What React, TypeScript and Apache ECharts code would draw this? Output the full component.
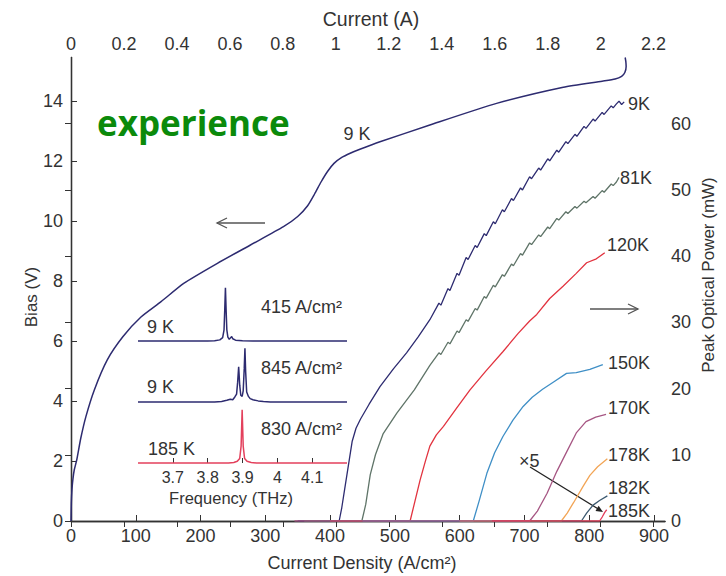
import React, { useEffect, useRef } from "react";
import * as echarts from "echarts";

// ---- Data ----
// Bias (V) vs current density (A/cm^2), 9 K
const biasCurve: [number, number][] = [
  [0, 0], [0.5, 0.6], [1.5, 1.05], [3, 1.4], [5, 1.7], [9, 2.05], [15, 2.75], [23, 3.48],
  [36, 4.37], [56, 5.37], [80, 6.14], [108, 6.8], [139, 7.31], [174, 7.92], [226, 8.59],
  [277, 9.2], [328, 9.81], [350, 10.15], [365, 10.5], [376, 10.9], [386, 11.3], [396, 11.65],
  [406, 11.92], [418, 12.12], [431, 12.26], [447, 12.4], [477, 12.64], [554, 13.2], [657, 13.92],
  [760, 14.46], [820, 14.66], [840, 14.73], [850, 14.82], [855, 14.95], [857, 15.15], [856.5, 15.32], [855.5, 15.45],
];

// Peak optical power (mW) vs current density (A/cm^2)
const power9K: [number, number][] = [
  [350, 0], [405, 0], [414, 0], [418, 2], [422, 4.5], [426, 7], [430, 9.5], [434, 12], [440, 14],
  [447, 15.4], [460, 17.6], [477, 20.3], [498, 23], [518, 25.4], [536, 27.8], [554, 30.4],
  [568, 32.9], [571, 32.6], [582, 35.1], [585, 34.8], [596, 37.4], [599, 37.1], [610, 39.8], [613, 39.5],
  [624, 41.6], [627, 41.3], [638, 43.4], [641, 43.1], [652, 45.2], [655, 44.9], [666, 47.0], [669, 46.7],
  [680, 48.7], [683, 48.4], [694, 50.3], [697, 50.0], [708, 52.0], [711, 51.7], [722, 53.3], [725, 53.0],
  [736, 54.7], [739, 54.4], [750, 56.0], [753, 55.7], [764, 57.3], [767, 57.0], [778, 58.4], [781, 58.1],
  [792, 59.6], [795, 59.3], [806, 60.7], [809, 60.4], [820, 61.7], [823, 61.4], [834, 62.7], [837, 62.4],
  [842, 63.0], [846, 63.4], [850, 62.9], [854, 63.3],
];
const power81K: [number, number][] = [
  [360, 0], [446, 0], [449, 0], [455, 2.5], [462, 7.0], [470, 10], [482, 13.2], [503, 16.3], [530, 19.8],
  [554, 23.5], [568, 25.4], [571, 25.15], [582, 27.0], [585, 26.75], [596, 28.7], [599, 28.45], [610, 30.4],
  [613, 30.15], [624, 32.1], [627, 31.85], [638, 33.9], [641, 33.65], [652, 35.6], [655, 35.35], [666, 37.2],
  [669, 36.95], [680, 38.8], [683, 38.55], [694, 40.4], [697, 40.15], [708, 42.0], [711, 41.75], [722, 43.2],
  [725, 42.95], [736, 44.4], [739, 44.15], [750, 45.7], [753, 45.45], [764, 46.7], [767, 46.45], [778, 47.5],
  [781, 47.25], [792, 48.3], [795, 48.05], [806, 49.0], [809, 48.75], [820, 49.9], [823, 49.65], [834, 50.9],
  [837, 50.65], [842, 51.2], [846, 51.9],
];
const power120K: [number, number][] = [
  [400, 0], [520, 0], [523.5, 0], [531, 3], [539, 6.2], [547, 9], [554, 11.3], [564, 13], [575, 14.3],
  [595, 17], [616, 19.8], [640, 22.6], [667, 25.6], [690, 28.3], [708, 30.2], [719, 31.2], [739, 33.6],
  [760, 35.5], [780, 37.4], [796, 39.0], [811, 39.6], [824, 40.5],
];
const power150K: [number, number][] = [
  [450, 0], [618, 0], [621, 0], [630, 3], [642, 7.2], [654, 10.3], [667, 12.8], [682, 15.2], [698, 17.3],
  [712, 18.7], [728, 19.9], [745, 21.0], [765, 22.3], [780, 22.4], [801, 22.9], [821, 23.6],
];
const power170K: [number, number][] = [
  [345, 0], [705, 0], [708, 0], [720, 1.5], [735, 4.2], [750, 7.5], [765, 10.4], [780, 13.3],
  [795, 15.0], [810, 15.7], [826, 16.1],
];
const power178K: [number, number][] = [
  [600, 0], [754, 0], [757, 0], [766, 1.2], [776, 2.8], [791, 5.3], [801, 6.9], [813, 8.2], [828, 9.4],
];
const power182K: [number, number][] = [
  [650, 0], [786, 0], [788, 0], [796, 1.2], [806, 2.4], [816, 3.1], [828, 3.8],
];
const power185K: [number, number][] = [
  [650, 0], [816, 0], [820, 0.6], [824, 1.3], [827, 1.7],
];

// Inset spectra: frequency (THz) vs normalized intensity
const spectrum415: [number, number][] = [
  [3.6, 0], [3.8, 0], [3.82, 0.005], [3.835, 0.02], [3.843, 0.06], [3.847, 0.2], [3.849, 0.55],
  [3.851, 0.95], [3.853, 0.55], [3.855, 0.2], [3.858, 0.07], [3.862, 0.03], [3.866, 0.06],
  [3.869, 0.08], [3.872, 0.04], [3.88, 0.015], [3.9, 0.005], [3.93, 0], [4.2, 0],
];
const spectrum845: [number, number][] = [
  [3.6, 0], [3.82, 0], [3.84, 0.01], [3.855, 0.03], [3.865, 0.05], [3.872, 0.04], [3.878, 0.09],
  [3.883, 0.14], [3.886, 0.35], [3.889, 0.63], [3.892, 0.3], [3.895, 0.12], [3.899, 0.1], [3.902, 0.2],
  [3.905, 0.6], [3.907, 0.96], [3.909, 0.55], [3.912, 0.18], [3.917, 0.1], [3.922, 0.06], [3.93, 0.04],
  [3.945, 0.02], [3.96, 0.01], [3.98, 0], [4.2, 0],
];
const spectrum830: [number, number][] = [
  [3.6, 0], [3.86, 0], [3.875, 0.01], [3.885, 0.03], [3.892, 0.08], [3.896, 0.3], [3.899, 0.95],
  [3.902, 0.3], [3.906, 0.08], [3.913, 0.03], [3.925, 0.01], [3.94, 0], [4.2, 0],
];
const freqTicks = [3.7, 3.8, 3.9, 4, 4.1];

const FONT = "'Liberation Sans', Arial, sans-serif";
const TXT = "#333";
const AX = "#333";

const NAVY = "#2d2b70";
const GRAYGREEN = "#5f7468";
const RED = "#e2333f";
const BLUE = "#3f8fc6";
const MAUVE = "#a65683";
const ORANGE = "#f2a556";
const SLATE = "#3d5a70";
const PINKRED = "#e3405c";

function txt(text: string, x: number, y: number, opts: any = {}) {
  return {
    type: "text",
    x,
    y,
    rotation: opts.rotation || 0,
    z: 100,
    style: {
      text,
      fill: opts.fill || TXT,
      fontSize: opts.fontSize || 18,
      fontFamily: opts.fontFamily || FONT,
      fontWeight: opts.fontWeight || "normal",
      textAlign: opts.align || "left",
      textVerticalAlign: "middle",
    },
  };
}

export default function App() {
  const ref = useRef<HTMLDivElement>(null);
  useEffect(() => {
    if (!ref.current) return;
    const chart = echarts.init(ref.current, null, { renderer: "svg" });
    const axisLine = { show: true, lineStyle: { color: AX, width: 1.3 } };
    const axisLabel = { color: TXT, fontSize: 18, fontFamily: FONT };
    const line = (data: any, color: string, yAxisIndex = 1, lw = 1.3, extra: any = {}) => ({
      type: "line",
      data,
      xAxisIndex: 0,
      yAxisIndex,
      showSymbol: false,
      symbol: "none",
      silent: true,
      lineStyle: { color, width: lw },
      ...extra,
    });
    const spec = (data: any, color: string, idx: number) => ({
      type: "line",
      data,
      xAxisIndex: idx,
      yAxisIndex: idx,
      showSymbol: false,
      symbol: "none",
      silent: true,
      clip: false,
      lineStyle: { color, width: 1.5 },
    });
    const option: any = {
      animation: false,
      backgroundColor: "#fff",
      grid: [
        { left: 71, right: 61, top: 57.5, bottom: 55 },
        { left: 138, top: 285, width: 209, height: 56 },
        { left: 138, top: 346, width: 209, height: 56 },
        { left: 138, top: 407, width: 209, height: 56 },
      ],
      xAxis: [
        {
          type: "value", gridIndex: 0, position: "bottom", min: 0, max: 917, interval: 100,
          axisLine, axisTick: { inside: true, length: 6, lineStyle: { color: AX } },
          axisLabel: { ...axisLabel, margin: 6, showMaxLabel: false }, splitLine: { show: false },
        },
        {
          type: "value", gridIndex: 0, position: "top", min: 0, max: 2.243, interval: 0.2,
          axisLine, axisTick: { inside: true, length: 6, lineStyle: { color: AX } },
          axisLabel: { ...axisLabel, margin: 5, showMaxLabel: false }, splitLine: { show: false },
        },
        { type: "value", gridIndex: 1, min: 3.6, max: 4.2, show: false },
        { type: "value", gridIndex: 2, min: 3.6, max: 4.2, show: false },
        {
          type: "value", gridIndex: 3, min: 3.6, max: 4.2,
          axisLine: { show: false },
          axisTick: { show: true, inside: true, length: 5, customValues: freqTicks, lineStyle: { color: AX } },
          axisLabel: { ...axisLabel, fontSize: 16, margin: 6, customValues: freqTicks },
          splitLine: { show: false },
        },
      ],
      yAxis: [
        {
          type: "value", gridIndex: 0, position: "left", min: 0, max: 15.45, interval: 2,
          axisLine, axisTick: { show: true, inside: true, length: 6, lineStyle: { color: AX } },
          axisLabel: { ...axisLabel, margin: 8, showMaxLabel: false }, splitLine: { show: false },
        },
        {
          type: "value", gridIndex: 0, position: "right", min: 0, max: 70, interval: 10,
          axisLine, axisTick: { show: true, inside: true, length: 6, lineStyle: { color: AX } },
          axisLabel: { ...axisLabel, margin: 6, showMaxLabel: false }, splitLine: { show: false },
        },
        { type: "value", gridIndex: 1, min: 0, max: 1, show: false },
        { type: "value", gridIndex: 2, min: 0, max: 1, show: false },
        { type: "value", gridIndex: 3, min: 0, max: 1, show: false },
      ],
      series: [
        line(biasCurve, NAVY, 0, 1.5, { smooth: 0.2 }),
        line(power9K, NAVY),
        line(power81K, GRAYGREEN),
        line(power120K, RED),
        line(power150K, BLUE),
        line(power178K, ORANGE),
        line(power182K, SLATE),
        line(power170K, MAUVE),
        line(power185K, PINKRED),
        spec(spectrum415, NAVY, 2),
        spec(spectrum845, NAVY, 3),
        spec(spectrum830, PINKRED, 4),
      ],
      graphic: [
        txt("Current (A)", 371, 19, { align: "center", fontSize: 19.5 }),
        txt("Current Density (A/cm²)", 362, 563, { align: "center" }),
        txt("Bias (V)", 31, 297, { align: "center", rotation: Math.PI / 2, fontSize: 17 }),
        txt("Peak Optical Power (mW)", 708, 275, { align: "center", rotation: Math.PI / 2, fontSize: 17 }),
        txt("experience", 97, 122, { fontSize: 35, fontWeight: "bold", fontFamily: "'Open Sans', sans-serif", fill: "#0b8a0b" }),
        txt("9 K", 357, 134, { align: "center" }),
        txt("9K", 628, 104),
        txt("81K", 620, 178),
        txt("120K", 607, 245),
        txt("150K", 608, 363),
        txt("170K", 608, 408),
        txt("178K", 608, 455),
        txt("182K", 608, 488),
        txt("185K", 608, 511),
        txt("415 A/cm²", 261, 307),
        txt("845 A/cm²", 261, 368),
        txt("830 A/cm²", 261, 429),
        txt("9 K", 147, 327),
        txt("9 K", 147, 387),
        txt("185 K", 148, 449),
        txt("Frequency (THz)", 231, 498, { align: "center", fontSize: 16.5 }),
        txt("×5", 519, 461),
        // left arrow (bias axis)
        { type: "line", shape: { x1: 265, y1: 223, x2: 217, y2: 223 }, style: { stroke: "#555", lineWidth: 1.3 } },
        { type: "polyline", shape: { points: [[227, 218], [217, 223], [227, 228]] }, style: { stroke: "#555", lineWidth: 1.3, fill: "none" } },
        // right arrow (power axis)
        { type: "line", shape: { x1: 590, y1: 309, x2: 638, y2: 309 }, style: { stroke: "#555", lineWidth: 1.3 } },
        { type: "polyline", shape: { points: [[628, 304], [638, 309], [628, 314]] }, style: { stroke: "#555", lineWidth: 1.3, fill: "none" } },
        // x5 arrow
        { type: "line", shape: { x1: 530, y1: 467, x2: 600, y2: 510 }, style: { stroke: "#222", lineWidth: 1.3 } },
        { type: "polygon", shape: { points: [[603, 512], [595.5, 510.9], [598.6, 505.8]] }, style: { fill: "#222" } },
      ],
    };
    chart.setOption(option);
    return () => chart.dispose();
  }, []);
  return (
    <div
      ref={ref}
      style={{ position: "fixed", left: 0, top: 0, width: 726, height: 576, background: "#fff" }}
    />
  );
}
